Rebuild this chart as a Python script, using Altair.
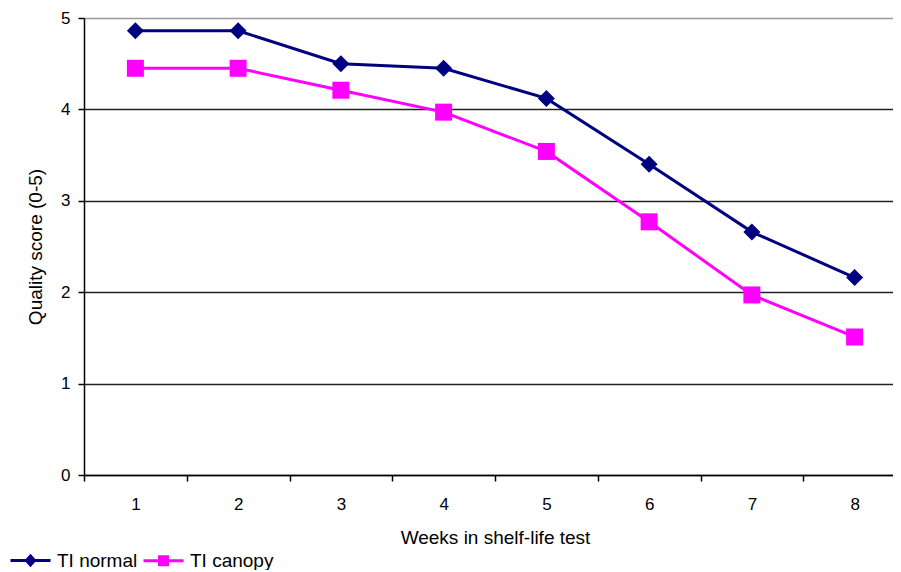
import altair as alt
import pandas as pd

weeks = [1, 2, 3, 4, 5, 6, 7, 8]
series_names = ["TI normal", "TI canopy"]
ti_normal = [4.86, 4.86, 4.50, 4.45, 4.12, 3.40, 2.66, 2.16]
ti_canopy = [4.45, 4.45, 4.21, 3.97, 3.54, 2.77, 1.97, 1.51]
colors = ["#000080", "#FF00FF"]
marker_shapes = ["diamond", "square"]
y_ticks = [0, 1, 2, 3, 4, 5]

rows = []
for w, a, b in zip(weeks, ti_normal, ti_canopy):
    rows.append({"week": w, "score": a, "series": series_names[0]})
    rows.append({"week": w, "score": b, "series": series_names[1]})
df = pd.DataFrame(rows)

FONT = "Liberation Sans"

shape_expr = (
    "datum.value === 'TI normal' ? "
    "'M-1,0L3,0M1,-0.45L1.4,0L1,0.45L0.6,0Z' : "
    "'M-1,0L3,0M0.6,-0.4L1.4,-0.4L1.4,0.4L0.6,0.4Z'"
)
col_expr = "datum.value === 'TI normal' ? '#000080' : '#FF00FF'"

legend = alt.Legend(
    title=None,
    orient="none",
    legendX=-75,
    legendY=531,
    direction="horizontal",
    padding=0,
    symbolSize=400,
    symbolType={"expr": shape_expr},
    symbolStrokeColor={"expr": col_expr},
    symbolFillColor={"expr": col_expr},
    symbolStrokeWidth=3,
    symbolOpacity=1,
    labelOffset=25,
    labelFont=FONT,
    labelFontSize=19,
    labelColor="black",
    columnPadding=-1,
)

x_enc = alt.X(
    "week:O",
    scale=alt.Scale(type="band", range=[0, 822], paddingInner=0, paddingOuter=0),
    axis=alt.Axis(
        title="Weeks in shelf-life test",
        labelAngle=0,
        tickBand="extent",
        tickSize=6,
        tickColor="black",
        tickWidth=1.5,
        domainColor="black",
        domainWidth=1.5,
        labelFont=FONT,
        labelFontSize=17,
        labelColor="black",
        labelPadding=15,
        titleFont=FONT,
        titleFontSize=19,
        titleFontWeight="normal",
        titleColor="black",
        titlePadding=16,
        grid=False,
    ),
)
y_enc = alt.Y(
    "score:Q",
    scale=alt.Scale(domain=[0, 5], nice=False),
    axis=alt.Axis(
        title="Quality score (0-5)",
        values=y_ticks,
        tickSize=6,
        tickColor="black",
        tickWidth=1.5,
        domainColor="black",
        domainWidth=1.5,
        labelFont=FONT,
        labelFontSize=17,
        labelColor="black",
        labelPadding=8,
        titleFont=FONT,
        titleFontSize=19,
        titleFontWeight="normal",
        titleColor="black",
        titlePadding=15,
        grid=True,
        gridColor=alt.condition("datum.value == 5", alt.value("#999999"), alt.value("#222222")),
        gridWidth=1.5,
        gridOpacity=1,
    ),
)
color_enc = alt.Color(
    "series:N",
    scale=alt.Scale(domain=series_names, range=colors),
    legend=legend,
)

base = alt.Chart(df).encode(x=x_enc, y=y_enc, color=color_enc)

lines = base.mark_line(strokeWidth=3)
layers = [lines]
for name, shp in zip(series_names, marker_shapes):
    layers.append(
        base.transform_filter(alt.datum.series == name).mark_point(
            filled=True, size=289, opacity=1, shape=shp
        )
    )

chart = (
    alt.layer(*layers)
    .properties(
        width=809,
        height=457,
        autosize=alt.AutoSizeParams(type="none"),
        padding={"left": 76, "top": 10, "right": 0, "bottom": 95},
    )
    .configure_view(stroke=None)
    .configure(font=FONT)
)

chart.save("out.html", embed_options={"renderer": "svg", "actions": False})
